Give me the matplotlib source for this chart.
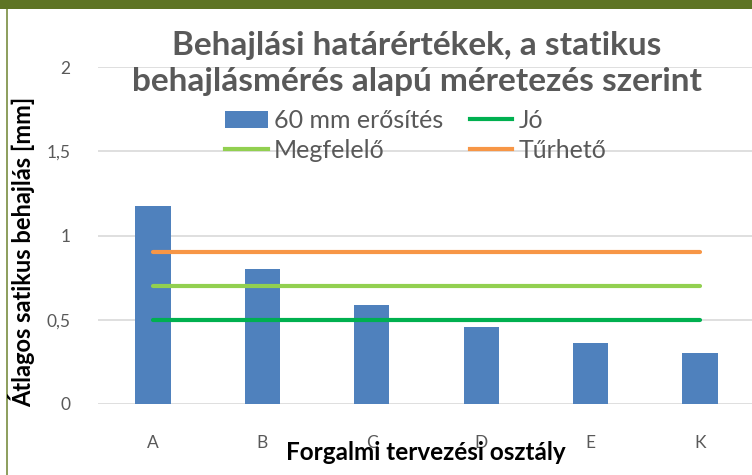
import matplotlib.pyplot as plt
import numpy as np
from matplotlib.patches import Rectangle
from matplotlib.lines import Line2D

plt.rcParams['font.family'] = ['Lato', 'DejaVu Sans']

categories = ["A", "B", "C", "D", "E", "K"]
bar_values = [1.175, 0.80, 0.585, 0.455, 0.36, 0.30]
jo = [0.5] * 6
megfelelo = [0.7] * 6
turheto = [0.9] * 6
y_ticks = [0, 0.5, 1, 1.5, 2]
y_tick_labels = ["0", "0,5", "1", "1,5", "2"]

W, H = 752, 475
fig = plt.figure(figsize=(W / 100, H / 100), dpi=100)
fig.patch.set_facecolor("white")

# border strips
fig.add_artist(Rectangle((0, 1 - 9 / H), 1, 9 / H, transform=fig.transFigure,
                         facecolor="#5E7424", edgecolor="none"))
fig.add_artist(Rectangle((5.5 / W, 0), 2.5 / W, 1 - 9 / H, transform=fig.transFigure,
                         facecolor="#8FA060", edgecolor="none"))

ax = fig.add_axes([98.3 / W, 71 / H, 656.4 / W, 337 / H])
x = np.arange(len(categories))
bars = ax.bar(x, bar_values, width=0.32, color="#4F81BD", zorder=2)
ax.plot(x, jo, color="#00B050", lw=3, solid_capstyle="round", zorder=3)
ax.plot(x, megfelelo, color="#92D050", lw=3, solid_capstyle="round", zorder=3)
ax.plot(x, turheto, color="#F79646", lw=3, solid_capstyle="round", zorder=3)

ax.set_xlim(-0.5, 5.5)
ax.set_ylim(0, 2)
ax.set_yticks(y_ticks)
ax.set_yticklabels(y_tick_labels)
ax.set_xticks(x)
ax.set_xticklabels(categories)
ax.grid(axis="y", color="#D9D9D9", lw=1.2, zorder=0)
for s in ax.spines.values():
    s.set_visible(False)
ax.tick_params(length=0, colors="#595959", labelsize=12.5)
ax.tick_params(axis="y", pad=20)
ax.tick_params(axis="x", pad=22)

fig.text(417 / W, 1 - 63.5 / H, "Behajlási határértékek, a statikus\nbehajlásmérés alapú méretezés szerint",
         ha="center", va="center", fontsize=24, fontweight="bold", color="#595959", linespacing=1.32)

fig.text(22 / W, 1 - 252 / H, "Átlagos satikus behajlás [mm]", rotation=90,
         ha="center", va="center", fontsize=17, fontweight="bold", color="black")
fig.text(426 / W, 1 - 453 / H, "Forgalmi tervezési osztály",
         ha="center", va="center", fontsize=17.5, fontweight="bold", color="black")

handles = [bars, Line2D([], [], color="#92D050", lw=3), Line2D([], [], color="#00B050", lw=3),
           Line2D([], [], color="#F79646", lw=3)]
labels = ["60 mm erősítés", "Megfelelő", "Jó", "Tűrhető"]
leg = fig.legend(handles, labels, ncol=2, loc="upper left", bbox_to_anchor=(225 / W, 1 - 109 / H),
                 frameon=False, fontsize=18, handlelength=1.7, handletextpad=0.24,
                 columnspacing=1.08, labelspacing=0.26, borderpad=0, borderaxespad=0)
for t in leg.get_texts():
    t.set_color("#595959")

fig.savefig("out.png", dpi=100)
